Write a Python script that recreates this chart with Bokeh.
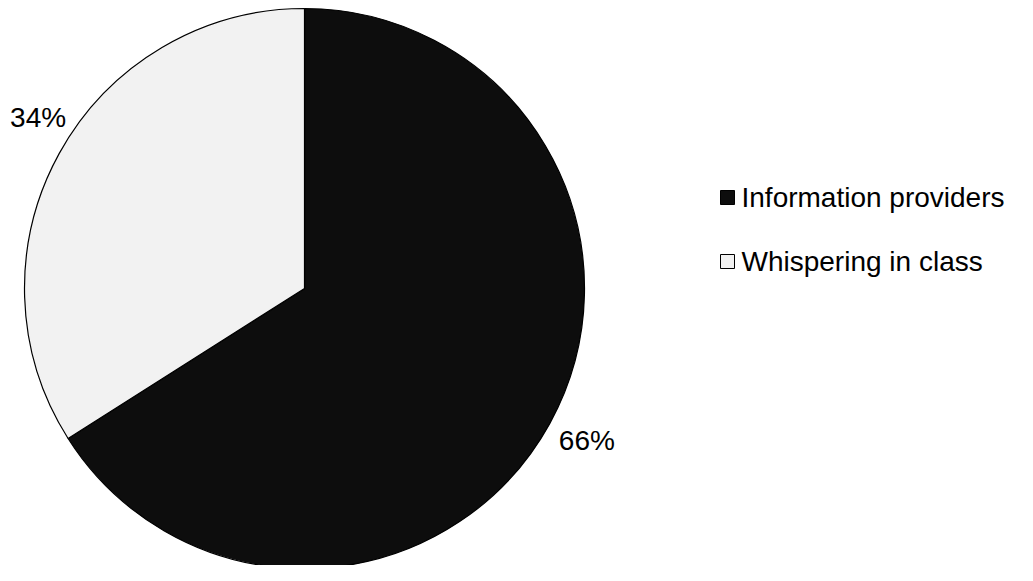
import numpy as np
from bokeh.plotting import figure
from bokeh.models import Range1d
from bokeh.core.properties import value
from bokeh.embed import file_html
from bokeh.resources import INLINE

categories = ["Information providers", "Whispering in class"]
values = [66, 34]
colors = ["#0d0d0d", "#f2f2f2"]
labels = ["66%", "34%"]

W, H = 1017, 565
p = figure(width=W, height=H, output_backend="svg", toolbar_location=None,
           x_range=Range1d(0, W), y_range=Range1d(0, H), min_border=0)
p.axis.visible = False
p.grid.visible = False
p.outline_line_color = None
p.background_fill_color = "white"
p.border_fill_color = "white"

# pie geometry (screen-like pixels, y measured from bottom)
cx, cy_top, r = 304, 288, 280
cy = H - cy_top
vals = np.array(values, dtype=float)
frac = vals / vals.sum()
ends = np.pi / 2 - 2 * np.pi * np.cumsum(frac)
starts = np.concatenate([[np.pi / 2], ends[:-1]])
p.wedge(x=cx, y=cy, radius=r, start_angle=list(starts), end_angle=list(ends),
        direction="clock", fill_color=colors, line_color="black", line_width=1.2)

# data labels anchored on the arc at mid-angle, nudged outward (style offsets)
mids = (starts + ends) / 2
lx = list(cx + r * np.cos(mids))
ly = list(cy + r * np.sin(mids))
x_off = [37, -21]
y_off = [17, -36]
p.text(x=lx, y=ly, text=labels, x_offset=x_off, y_offset=y_off,
       text_font=value("Liberation Sans"), text_font_size="28px", text_color="#000000",
       text_align="center", text_baseline="middle")

# legend
leg_y = [H - 197, H - 261]
p.scatter(x=[727] * 2, y=leg_y, marker="square", size=14, fill_color=colors,
          line_color="black", line_width=1)
p.text(x=[741] * 2, y=leg_y, text=categories, text_font=value("Liberation Sans"),
       text_font_size="28px", text_color="#000000", text_align="left",
       text_baseline="middle")

open("out.html", "w").write(file_html(p, INLINE))
